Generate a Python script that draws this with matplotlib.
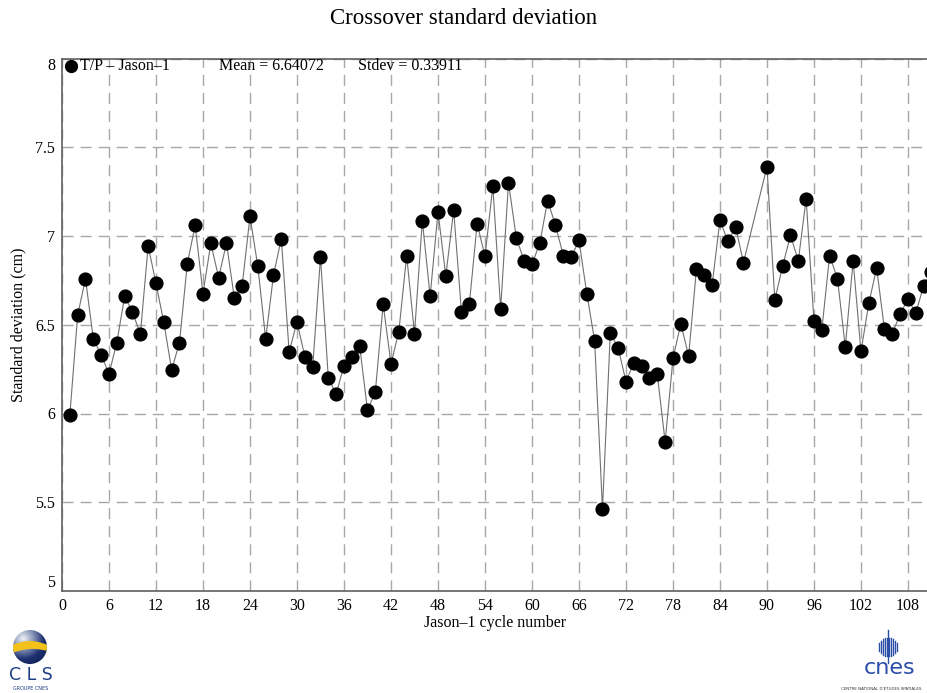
import numpy as np
import matplotlib
matplotlib.use("Agg")
import matplotlib.pyplot as plt
from matplotlib.patches import Circle, Polygon

# ---------------- data ----------------
cycles = [1, 2, 3, 4, 5, 6, 7, 8, 9, 10, 11, 12, 13, 14, 15, 16, 17, 18, 19, 20,
          21, 22, 23, 24, 25, 26, 27, 28, 29, 30, 31, 32, 33, 34, 35, 36, 37, 38, 39, 40,
          41, 42, 43, 44, 45, 46, 47, 48, 49, 50, 51, 52, 53, 54, 55, 56, 57, 58, 59, 60,
          61, 62, 63, 64, 65, 66, 67, 68, 69, 70, 71, 72, 73, 74, 75, 76, 77, 78, 79, 80,
          81, 82, 83, 84, 85, 86, 87, 90, 91, 92, 93, 94, 95, 96, 97, 98, 99, 100,
          101, 102, 103, 104, 105, 106, 107, 108, 109, 110, 111]
std_dev = [5.99, 6.555, 6.758, 6.42, 6.33, 6.223, 6.40, 6.66, 6.573, 6.446,
           6.944, 6.733, 6.513, 6.245, 6.40, 6.845, 7.06, 6.676, 6.958, 6.766,
           6.96, 6.65, 6.72, 7.11, 6.83, 6.42, 6.78, 6.985, 6.346, 6.517,
           6.32, 6.26, 6.88, 6.20, 6.11, 6.27, 6.32, 6.38, 6.02, 6.12,
           6.615, 6.28, 6.46, 6.89, 6.45, 7.087, 6.66, 7.136, 6.775, 7.145,
           6.57, 6.615, 7.07, 6.885, 7.28, 6.59, 7.30, 6.99, 6.86, 6.84,
           6.96, 7.20, 7.06, 6.89, 6.88, 6.975, 6.675, 6.41, 5.46, 6.455,
           6.37, 6.18, 6.285, 6.265, 6.20, 6.22, 5.84, 6.31, 6.505, 6.325,
           6.815, 6.78, 6.725, 7.09, 6.97, 7.05, 6.85, 7.39, 6.64, 6.83,
           7.005, 6.86, 7.21, 6.52, 6.47, 6.89, 6.76, 6.375, 6.86, 6.35,
           6.62, 6.82, 6.475, 6.45, 6.56, 6.645, 6.565, 6.72, 6.80]
x_ticks = [0, 6, 12, 18, 24, 30, 36, 42, 48, 54, 60, 66, 72, 78, 84, 90, 96, 102, 108]
y_ticks = [5, 5.5, 6, 6.5, 7, 7.5, 8]
y_tick_labels = ["5", "5.5", "6", "6.5", "7", "7.5", "8"]
series_name = "T/P \u2013 Jason\u20131"
mean_text = "Mean = 6.64072"
stdev_text = "Stdev = 0.33911"
title = "Crossover standard deviation"
x_label = "Jason\u20131 cycle number"
y_label = "Standard deviation (cm)"

SERIF = ["Liberation Serif", "DejaVu Serif"]
plt.rcParams["font.family"] = SERIF

W, H = 928, 693
fig = plt.figure(figsize=(W / 100, H / 100), dpi=100)

def fx(px):
    return px / W

def fy(py):
    return 1 - py / H

left_px, right_px, top_px, bot_px = 62, 928, 58.5, 591
ax = fig.add_axes([fx(left_px), fy(bot_px), fx(right_px - left_px), (bot_px - top_px) / H])
ax.set_xlim(0, (right_px - left_px) / 7.833)
ax.set_ylim(5, 8)

ax.plot(cycles, std_dev, color="#707070", lw=0.8, zorder=3)
ax.plot(cycles, std_dev, ls="none", marker="o", ms=9.2, mfc="black", mec="black", zorder=4)

ax.set_xticks(x_ticks)
ax.set_yticks(y_ticks)
ax.set_yticklabels(y_tick_labels)
ax.tick_params(axis="both", length=0, labelsize=11.5, pad=5, colors="black")
ax.grid(True, color="#a8a8a8", lw=1.0, ls=(0, (8, 5)))
ax.set_axisbelow(True)
for s in ["left", "bottom", "top"]:
    ax.spines[s].set_color("#606060")
    ax.spines[s].set_linewidth(1.2)
ax.spines["right"].set_visible(False)

labs = ax.get_yticklabels()
labs[-1].set_va("top")
labs[0].set_va("bottom")

ax.set_xlabel(x_label, fontsize=11.5, labelpad=1)
ax.set_ylabel(y_label, fontsize=11.5, labelpad=6)

fig.text(0.5, fy(18), title, ha="center", va="center", fontsize=16.5)

# legend-like header
ax.plot([1.12], [7.958], ls="none", marker="o", ms=8.5, mfc="black", mec="black",
        clip_on=False, zorder=5)
fig.text(fx(80), fy(66), series_name, ha="left", va="center", fontsize=11.5)
fig.text(fx(219), fy(66), mean_text, ha="left", va="center", fontsize=11.5)
fig.text(fx(358), fy(66), stdev_text, ha="left", va="center", fontsize=11.5)

# ---------------- logos (pixel coordinates overlay) ----------------
lg = fig.add_axes([0, 0, 1, 1], zorder=-1)
lg.set_xlim(0, W)
lg.set_ylim(H, 0)
lg.axis("off")

# CLS sphere
yy, xx = np.mgrid[0:1:100j, 0:1:100j]
d = np.sqrt((xx - 0.3) ** 2 + (yy - 0.25) ** 2)
grad = np.clip(d / 0.9, 0, 1)
cmap = matplotlib.colors.LinearSegmentedColormap.from_list(
    "g", ["#eef1f6", "#8796b8", "#1f3272", "#0f1f55"])
img = lg.imshow(grad, cmap=cmap, extent=[13, 47, 664, 630], origin="upper", zorder=1)
circ = Circle((30, 647), 17, transform=lg.transData)
img.set_clip_path(circ)
tt = np.linspace(0, 1, 30)
upper = [(12 + 36 * t, 645 - 4 * np.sin(np.pi * t)) for t in tt]
lower = [(48 - 36 * t, 651 - 3 * np.sin(np.pi * (1 - t)) + 2 * t) for t in tt]
band = Polygon(upper + lower, closed=True, fc="#f2c21b", ec="none", zorder=2)
lg.add_patch(band)
band.set_clip_path(circ)
lg.text(31, 675, "C L S", ha="center", va="center", fontsize=12.5, color="#1d3d86",
        family=["DejaVu Sans"])
lg.text(31, 688, "GROUPE CNES", ha="center", va="center", fontsize=3.5, color="#1d3d86",
        family=["DejaVu Sans"])

# CNES
for bx in np.arange(879, 898, 2):
    h = 18 * np.sqrt(max(0.0, 1 - ((bx - 888) / 10.0) ** 2))
    lg.plot([bx, bx], [647 - h / 2, 647 + h / 2], color="#2b4fa6", lw=1.0)
lg.plot([888, 888], [630, 663], color="#2b4fa6", lw=1.0)
lg.text(890, 668, "cnes", ha="center", va="center", fontsize=16, color="#2a4ea8",
        family=["DejaVu Sans"])
lg.text(881, 689, "CENTRE NATIONAL D'ETUDES SPATIALES", ha="center", va="center",
        fontsize=2.9, color="#333333", family=["DejaVu Sans"])

fig.savefig("out.png", dpi=100)
